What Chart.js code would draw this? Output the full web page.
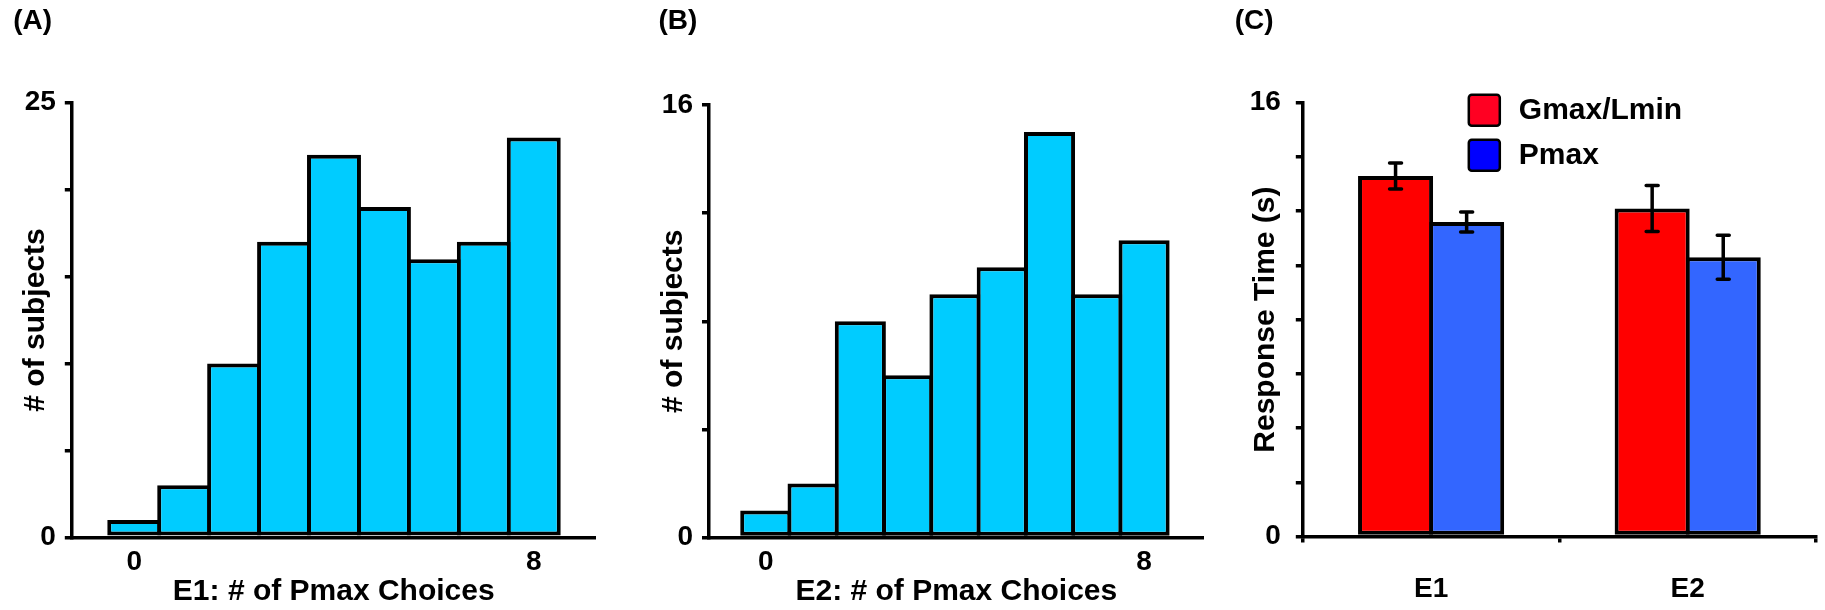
<!DOCTYPE html>
<html>
<head>
<meta charset="utf-8">
<title>Pmax choices and response times</title>
<script src="https://cdn.jsdelivr.net/npm/chart.js@4.4.1/dist/chart.umd.min.js"></script>
<style>
  html, body { margin: 0; padding: 0; background: #fff; }
  body { width: 1825px; height: 610px; position: relative; overflow: hidden; }
  canvas { position: absolute; top: 0; }
</style>
</head>
<body>
<canvas id="chart_a" width="610" height="610" style="left:0px"></canvas>
<canvas id="chart_b" width="610" height="610" style="left:610px"></canvas>
<canvas id="chart_c" width="605" height="610" style="left:1220px"></canvas>
<script>
// DATA
const pmax_choices = [0, 1, 2, 3, 4, 5, 6, 7, 8];
const e1_subjects = [1, 3, 10, 17, 22, 19, 16, 17, 23];
const e2_subjects = [1, 2, 8, 6, 9, 10, 15, 9, 11];
const hist_tick_values = [0, 8];

const experiments = ['E1', 'E2'];
const rt_series = ['Gmax/Lmin', 'Pmax'];
const gmax_rt = [13.3, 12.1];
const gmax_err = [0.48, 0.85];
const pmax_rt = [11.6, 10.3];
const pmax_err = [0.37, 0.81];

// COLOURS
const hist_color = '#00ccff';
const bar_colors = ['#ff0000', '#3366ff'];
const legend_colors = ['#ff0022', '#0000ff'];

Chart.defaults.font.family = "'Liberation Sans', Arial, sans-serif";
Chart.defaults.font.weight = 'bold';
Chart.defaults.font.size = 28;
Chart.defaults.color = '#000';
Chart.defaults.animation = false;
Chart.defaults.plugins.legend.display = false;
Chart.defaults.plugins.tooltip.enabled = false;

// only label the first and last tick of the y axis
function endLabelsOnly(value, index, ticks){
	return (index === 0 || index === ticks.length - 1) ? value : '';
}

function panelTitle(letter, bottom){
	return {
		display: true,
		text: letter,
		align: 'start',
		font: { size: 28, lineHeight: 1 },
		padding: { top: 7.5, bottom: bottom }
	};
}

function yAxis(max, step, title, g){
	return {
		min: 0,
		max: max,
		afterFit: s => { s.width = g.y_width; },
		ticks: { stepSize: step, padding: g.y_tick_pad, callback: endLabelsOnly },
		grid: { drawOnChartArea: false, color: '#000', lineWidth: 3.5, tickLength: 7 },
		border: { color: '#000', width: 3.5 },
		title: {
			display: true,
			text: title,
			font: { size: 30, lineHeight: 1 },
			padding: { top: g.y_title_pad, bottom: 0 }
		}
	};
}

// HISTOGRAMS (A) AND (B)
function histogram(id, letter, counts, x_title, y_max, y_step, g){
	return new Chart(document.getElementById(id), {
		type: 'bar',
		data: {
			datasets: [{
				data: pmax_choices.map((c, i) => ({ x: c, y: counts[i] })),
				backgroundColor: hist_color,
				borderColor: '#000',
				borderWidth: 4,
				borderSkipped: false,
				barPercentage: 1.08,
				categoryPercentage: 1
			}]
		},
		options: {
			responsive: false,
			layout: { padding: { left: g.left, right: g.right, top: 0, bottom: 0 } },
			plugins: { title: panelTitle(letter, g.title_bottom) },
			scales: {
				x: {
					type: 'linear',
					offset: false,
					min: g.x_min,
					max: g.x_max,
					z: 1,
					afterBuildTicks: s => { s.ticks = hist_tick_values.map(v => ({ value: v })); },
					afterFit: s => { s.height = g.x_height; },
					grid: { display: false, drawTicks: false },
					border: { color: '#000', width: 3.5 },
					ticks: { padding: 8 },
					title: {
						display: true,
						text: x_title,
						font: { size: 30, lineHeight: 1 },
						padding: { top: 0, bottom: 3 }
					}
				},
				y: yAxis(y_max, y_step, '# of subjects', g)
			}
		}
	});
}

histogram('chart_a', '(A)', e1_subjects, 'E1: # of Pmax Choices', 25, 5, {
	left: 13.3, right: 14.3, y_width: 58.5, x_height: 72.7, title_bottom: 67.2,
	x_min: -1.25, x_max: 9.24, y_title_pad: 7.7, y_tick_pad: 9
});

histogram('chart_b', '(B)', e2_subjects, 'E2: # of Pmax Choices', 16, 4, {
	left: 48.5, right: 16.3, y_width: 50.5, x_height: 72.5, title_bottom: 69.5,
	x_min: -1.2, x_max: 9.26, y_title_pad: 0, y_tick_pad: 9
});

// RESPONSE TIME (C)
const errorBars = {
	id: 'errorBars',
	afterDatasetsDraw(chart){
		const ctx = chart.ctx;
		const y = chart.scales.y;
		chart.data.datasets.forEach((ds, i) => {
			chart.getDatasetMeta(i).data.forEach((bar, j) => {
				const top = y.getPixelForValue(ds.data[j] + ds.err[j]);
				const bottom = y.getPixelForValue(ds.data[j] - ds.err[j]);
				ctx.save();
				ctx.strokeStyle = '#000';
				ctx.lineWidth = 3.5;
				ctx.lineCap = 'round';
				ctx.beginPath();
				ctx.moveTo(bar.x, top);
				ctx.lineTo(bar.x, bottom);
				ctx.moveTo(bar.x - 6, top);
				ctx.lineTo(bar.x + 6, top);
				ctx.moveTo(bar.x - 6, bottom);
				ctx.lineTo(bar.x + 6, bottom);
				ctx.stroke();
				ctx.restore();
			});
		});
	}
};

const rtLegend = {
	id: 'rtLegend',
	afterDraw(chart){
		const ctx = chart.ctx;
		const area = chart.chartArea;
		const x = area.left + 166;
		chart.data.datasets.forEach((ds, i) => {
			const y = area.top - 8 + i * 45;
			ctx.save();
			ctx.beginPath();
			ctx.roundRect(x, y, 31, 31, 3);
			ctx.fillStyle = legend_colors[i];
			ctx.fill();
			ctx.lineWidth = 2.5;
			ctx.strokeStyle = '#000';
			ctx.stroke();
			ctx.fillStyle = '#000';
			ctx.font = "bold 30px 'Liberation Sans', Arial, sans-serif";
			ctx.textBaseline = 'middle';
			ctx.fillText(ds.label, x + 50, y + 16);
			ctx.restore();
		});
	}
};

const rt_geom = { y_width: 68.1, y_title_pad: 15.9, y_tick_pad: 15 };

new Chart(document.getElementById('chart_c'), {
	type: 'bar',
	data: {
		labels: experiments,
		datasets: [{
			label: rt_series[0],
			data: gmax_rt,
			err: gmax_err,
			backgroundColor: bar_colors[0]
		},{
			label: rt_series[1],
			data: pmax_rt,
			err: pmax_err,
			backgroundColor: bar_colors[1]
		}]
	},
	options: {
		responsive: false,
		layout: { padding: { left: 14.7, right: 9, top: 0, bottom: 0 } },
		datasets: {
			bar: {
				borderColor: '#000',
				borderWidth: 4,
				borderSkipped: false,
				barPercentage: 1.056,
				categoryPercentage: 0.554
			}
		},
		plugins: { title: panelTitle('(C)', 67.2) },
		scales: {
			x: {
				z: 1,
				afterFit: s => { s.height = 73.5; },
				grid: { drawOnChartArea: false, color: '#000', lineWidth: 3.5, tickLength: 6 },
				border: { color: '#000', width: 3.5 },
				ticks: { padding: 30 }
			},
			y: yAxis(16, 2, 'Response Time (s)', rt_geom)
		}
	},
	plugins: [errorBars, rtLegend]
});
</script>
</body>
</html>
